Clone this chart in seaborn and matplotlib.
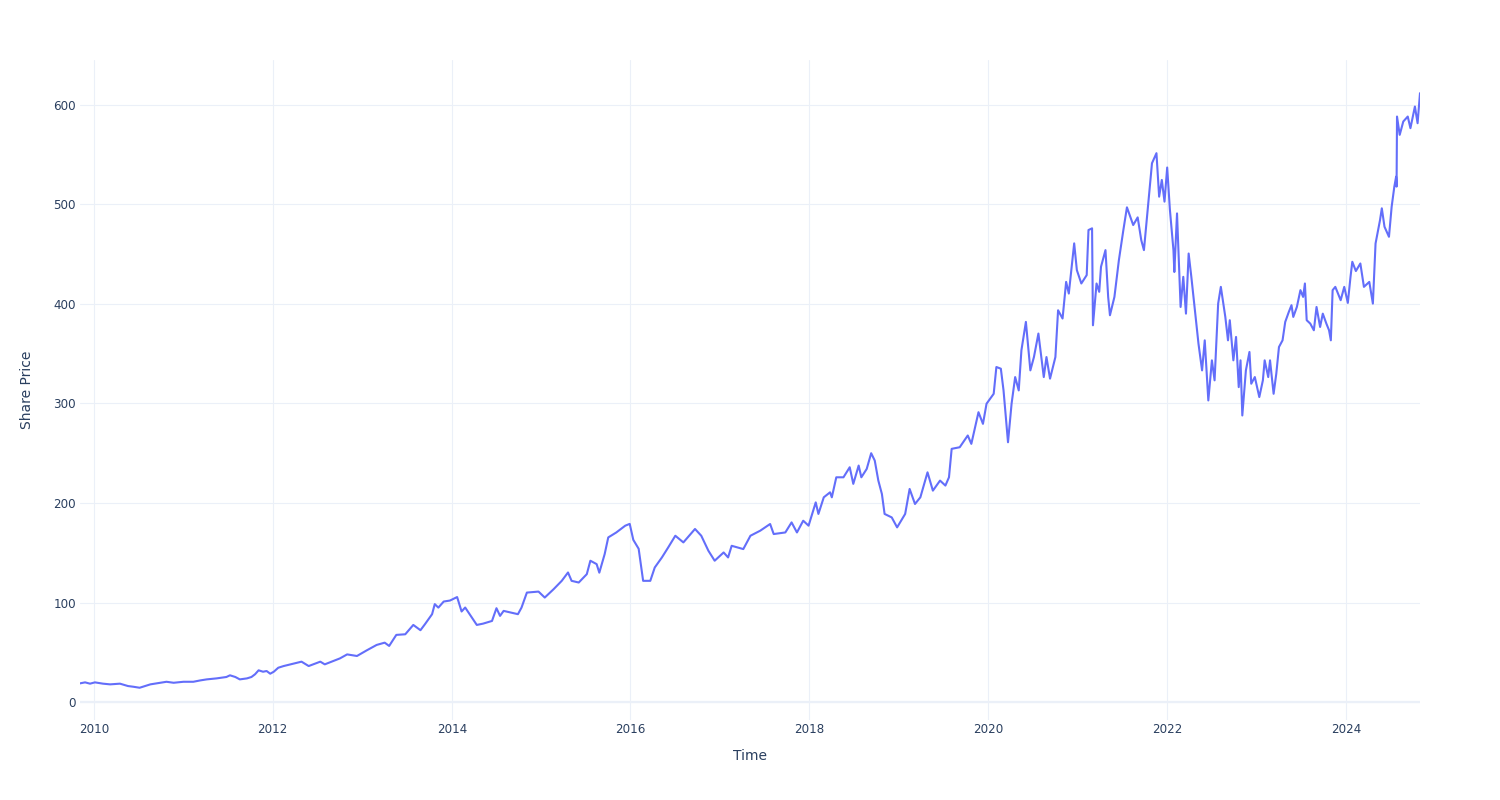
import numpy as np
import pandas as pd
import matplotlib
matplotlib.use("Agg")
import matplotlib.pyplot as plt
import matplotlib.dates as mdates
import seaborn as sns

# Decimal-year positions and share prices
years = [
    2009.843, 2009.90, 2009.955, 2010.01, 2010.10, 2010.18, 2010.29, 2010.38, 2010.44, 2010.51,
    2010.57, 2010.63, 2010.70, 2010.81, 2010.89, 2011.00, 2011.11, 2011.19, 2011.26, 2011.37,
    2011.48, 2011.52, 2011.58, 2011.63, 2011.71, 2011.76, 2011.80, 2011.84, 2011.89, 2011.93,
    2011.97, 2012.01, 2012.06, 2012.12, 2012.32, 2012.40, 2012.53, 2012.58, 2012.75, 2012.83,
    2012.94, 2013.05, 2013.16, 2013.25, 2013.30, 2013.38, 2013.48, 2013.57, 2013.65, 2013.70,
    2013.78, 2013.81, 2013.85, 2013.91, 2013.98, 2014.06, 2014.11, 2014.15, 2014.20, 2014.28,
    2014.35, 2014.45, 2014.50, 2014.54, 2014.58, 2014.74, 2014.78, 2014.84, 2014.97, 2015.04,
    2015.14, 2015.23, 2015.30, 2015.34, 2015.42, 2015.51, 2015.55, 2015.62, 2015.65, 2015.71,
    2015.75, 2015.84, 2015.94, 2015.99, 2016.03, 2016.09, 2016.12, 2016.14, 2016.22, 2016.27,
    2016.35, 2016.42, 2016.50, 2016.59, 2016.72, 2016.79, 2016.87, 2016.94, 2017.04, 2017.09,
    2017.13, 2017.26, 2017.34, 2017.45, 2017.56, 2017.60, 2017.73, 2017.80, 2017.86, 2017.93,
    2017.99, 2018.07, 2018.10, 2018.16, 2018.23, 2018.25, 2018.30, 2018.38, 2018.45, 2018.49,
    2018.55, 2018.58, 2018.64, 2018.69, 2018.73, 2018.77, 2018.81, 2018.84, 2018.92, 2018.98,
    2019.07, 2019.12, 2019.18, 2019.24, 2019.32, 2019.38, 2019.46, 2019.52, 2019.56, 2019.59,
    2019.68, 2019.77, 2019.81, 2019.89, 2019.94, 2019.98, 2020.06, 2020.09, 2020.14, 2020.17,
    2020.22, 2020.26, 2020.30, 2020.34, 2020.37, 2020.42, 2020.47, 2020.51, 2020.56, 2020.62,
    2020.65, 2020.69, 2020.75, 2020.78, 2020.83, 2020.87, 2020.90, 2020.96, 2020.99, 2021.04,
    2021.10, 2021.12, 2021.16, 2021.17, 2021.21, 2021.24, 2021.26, 2021.31, 2021.34, 2021.36,
    2021.41, 2021.46, 2021.51, 2021.55, 2021.62, 2021.67, 2021.71, 2021.74, 2021.79, 2021.83,
    2021.88, 2021.91, 2021.94, 2021.97, 2022.00, 2022.03, 2022.07, 2022.08, 2022.11, 2022.15,
    2022.18, 2022.21, 2022.24, 2022.27, 2022.31, 2022.35, 2022.39, 2022.42, 2022.46, 2022.50,
    2022.53, 2022.57, 2022.60, 2022.65, 2022.68, 2022.70, 2022.74, 2022.77, 2022.80, 2022.82,
    2022.84, 2022.88, 2022.92, 2022.94, 2022.98, 2023.03, 2023.07, 2023.09, 2023.13, 2023.15,
    2023.19, 2023.22, 2023.25, 2023.29, 2023.32, 2023.36, 2023.39, 2023.41, 2023.45, 2023.49,
    2023.52, 2023.54, 2023.56, 2023.60, 2023.64, 2023.67, 2023.71, 2023.74, 2023.78, 2023.81,
    2023.83, 2023.85, 2023.88, 2023.94, 2023.98, 2024.02, 2024.05, 2024.07, 2024.11, 2024.16,
    2024.20, 2024.26, 2024.30, 2024.33, 2024.38, 2024.40, 2024.43, 2024.48, 2024.51, 2024.54,
    2024.56, 2024.565, 2024.57, 2024.60, 2024.64, 2024.69, 2024.72, 2024.77, 2024.80, 2024.827,
]
prices = [
    18.8, 19.8, 18.5, 19.8, 18.5, 17.8, 18.5, 16.1, 15.4, 14.4,
    16.1, 17.8, 18.8, 20.4, 19.4, 20.4, 20.4, 21.8, 22.8, 23.8,
    25.2, 26.9, 25.2, 22.8, 23.8, 25.2, 27.9, 31.9, 30.5, 31.2,
    28.5, 30.5, 34.5, 36.2, 40.6, 36.2, 40.6, 37.9, 43.9, 47.9,
    46.3, 52.0, 57.4, 59.7, 56.4, 67.5, 68.1, 77.5, 72.2, 78.2,
    88.3, 98.4, 94.9, 101.0, 102.0, 105.5, 91.0, 95.0, 88.3, 77.5,
    78.8, 81.5, 94.3, 86.6, 91.6, 88.3, 94.9, 110.0, 111.0, 105.0,
    113.5, 121.8, 130.2, 121.8, 120.1, 128.5, 142.0, 138.6, 130.0, 148.7,
    165.4, 170.4, 177.2, 179.0, 163.0, 154.0, 135.0, 121.8, 121.8, 135.2,
    145.3, 155.3, 167.1, 160.4, 173.9, 167.1, 152.0, 142.0, 150.3, 145.3,
    157.0, 153.7, 167.1, 172.2, 178.9, 168.8, 170.4, 180.5, 170.4, 182.2,
    177.2, 200.6, 189.0, 205.7, 210.7, 205.7, 225.8, 225.8, 235.9, 219.2,
    237.6, 225.8, 234.2, 250.0, 242.6, 222.5, 209.0, 189.0, 185.5, 175.5,
    189.0, 214.1, 199.0, 205.7, 230.8, 212.4, 222.5, 217.5, 225.8, 254.4,
    256.0, 267.8, 259.4, 291.2, 279.5, 299.7, 309.7, 336.6, 334.9, 313.1,
    261.0, 299.7, 326.5, 313.1, 353.4, 381.9, 333.2, 346.6, 370.2, 326.5,
    346.6, 324.9, 346.6, 393.6, 385.3, 422.1, 410.4, 460.8, 433.9, 420.5,
    428.9, 474.2, 475.9, 378.5, 420.5, 412.1, 437.3, 454.0, 407.0, 388.6,
    407.0, 444.0, 474.2, 497.0, 479.2, 486.9, 464.1, 454.0, 502.7, 541.3,
    551.4, 507.7, 524.5, 502.7, 537.0, 495.0, 454.0, 432.0, 490.9, 396.9,
    427.2, 390.2, 450.6, 427.2, 393.6, 360.0, 333.2, 363.4, 303.0, 343.3,
    323.2, 400.3, 417.1, 386.9, 363.4, 383.6, 343.3, 366.8, 316.4, 343.3,
    287.9, 333.2, 351.7, 319.8, 326.5, 306.4, 323.2, 343.3, 326.5, 343.3,
    309.7, 329.9, 356.7, 363.4, 381.9, 391.9, 398.7, 386.9, 396.9, 413.8,
    407.0, 420.5, 383.6, 380.2, 373.5, 396.9, 376.8, 390.2, 380.2, 373.5,
    363.4, 413.8, 417.1, 403.7, 417.1, 401.0, 427.2, 442.3, 433.0, 440.6,
    417.1, 422.1, 400.3, 460.7, 484.2, 496.0, 477.5, 467.4, 497.6, 517.8,
    527.8, 517.8, 588.2, 569.8, 583.2, 588.2, 576.5, 598.3, 581.5, 611.7,
]
x_ticks = [2010, 2012, 2014, 2016, 2018, 2020, 2022, 2024]
y_ticks = [0, 100, 200, 300, 400, 500, 600]

yr = np.array(years)
dates = pd.Timestamp("2010-01-01") + pd.to_timedelta((yr - 2010) * 365.25, unit="D")
df = pd.DataFrame({"Time": dates, "Share Price": prices})

sns.set_theme(style="white")
plt.rcParams["font.family"] = ["DejaVu Sans"]

TXT = "#2a3f5f"
GRID = "#EBF0F8"

fig = plt.figure(figsize=(15, 8), dpi=100)
ax = fig.add_axes([80 / 1500, 1 - 720 / 800, 1340 / 1500, 660 / 800])

sns.lineplot(data=df, x="Time", y="Share Price", ax=ax, color="#636efa",
             linewidth=1.5, estimator=None, zorder=3)

ax.set_xlim(dates[0], dates[-1])
ax.set_ylim(-18, 645)

ax.set_xticks([pd.Timestamp(f"{y}-01-01") for y in x_ticks])
ax.xaxis.set_major_formatter(mdates.DateFormatter("%Y"))
ax.set_yticks(y_ticks)

ax.grid(True, color=GRID, linewidth=0.8, zorder=0)
ax.axhline(0, color=GRID, linewidth=1.6, zorder=1)
for s in ax.spines.values():
    s.set_visible(False)
ax.tick_params(axis="both", length=0, labelsize=8.6, labelcolor=TXT)
ax.tick_params(axis="y", pad=3)
ax.tick_params(axis="x", pad=2)

ax.set_xlabel("Time", fontsize=10, color=TXT)
ax.set_ylabel("Share Price", fontsize=10, color=TXT)
ax.xaxis.set_label_coords(0.5, -0.044)
ax.yaxis.set_label_coords(-0.034, 0.5)

fig.savefig("out.png", dpi=100, facecolor="white")
